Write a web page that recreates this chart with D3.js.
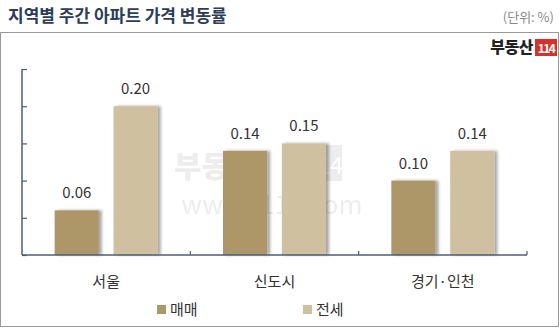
<!DOCTYPE html>
<html><head><meta charset="utf-8">
<script src="https://cdn.jsdelivr.net/npm/d3@7"></script>
<style>body{margin:0;background:#fff}svg{display:block}</style>
</head><body>
<svg id="c" width="560" height="330"></svg>
<script>
const categories = ["서울", "신도시", "경기·인천"];
const seriesNames = ["매매", "전세"];
const sale = [0.06, 0.14, 0.10];
const jeonse = [0.20, 0.15, 0.14];
const yTicks = [0, 0.05, 0.10, 0.15, 0.20, 0.25];
const colors = ["#ad9668", "#cfc09f"];
const title = "지역별 주간 아파트 가격 변동률";
const unit = "(단위: %)";

const svg = d3.select("#c");
const font = "'Noto Sans CJK KR','Noto Sans',sans-serif";

const defs = svg.append("defs");
const f = defs.append("filter").attr("id","sh").attr("x","-10%").attr("y","-10%").attr("width","130%").attr("height","120%");
f.append("feDropShadow").attr("dx",3).attr("dy",0).attr("stdDeviation",1.5).attr("flood-color","#000").attr("flood-opacity",0.35);

// title
svg.append("text").attr("x",8).attr("y",22).attr("font-family",font).attr("font-weight","bold")
  .attr("font-size",17).attr("fill","#2c3d5a").text(title);
svg.append("text").attr("x",554).attr("y",22).attr("text-anchor","end").attr("font-family",font)
  .attr("font-size",13).attr("fill","#8a8a8a").text(unit);

// box
svg.append("rect").attr("x",0.5).attr("y",32.5).attr("width",558).attr("height",294)
  .attr("fill","#fff").attr("stroke","#9a9a9a").attr("stroke-width",1);

// logo
const logo = svg.append("g");
logo.append("text").attr("x",533).attr("y",53).attr("text-anchor","end").attr("font-family",font)
  .attr("font-weight","900").attr("font-size",16).attr("fill","#222").attr("letter-spacing",-0.5).text("부동산");
logo.append("rect").attr("x",535).attr("y",39).attr("width",22).attr("height",17).attr("fill","#d9302a");
logo.append("text").attr("x",546).attr("y",52.5).attr("text-anchor","middle").attr("font-family",font)
  .attr("font-weight","bold").attr("font-size",12).attr("fill","#fff").attr("letter-spacing",-1.5).text("114");

// watermark
const wm = svg.append("g").attr("opacity",0.1);
wm.append("text").attr("x",174).attr("y",177).attr("font-family",font).attr("font-weight","900")
  .attr("font-size",30).attr("fill","#555").text("부동산");
wm.append("rect").attr("x",306).attr("y",145).attr("width",36).attr("height",36).attr("fill","#555");
wm.append("text").attr("x",324).attr("y",174).attr("text-anchor","middle").attr("font-family",font)
  .attr("font-size",24).attr("fill","#fff").attr("letter-spacing",-2).text("114");
wm.append("text").attr("x",272).attr("y",214).attr("text-anchor","middle").attr("font-family",font)
  .attr("font-size",26).attr("fill","#555").text("www.r114.com");

// scales
const x = d3.scaleBand().domain(categories).range([22, 527]).paddingInner(0).paddingOuter(0);
const y = d3.scaleLinear().domain([0, 0.25]).range([255, 69]);
const x1 = d3.scaleBand().domain(seriesNames).range([0, 103]).paddingInner(0.25);
const groupOffset = (x.bandwidth() - 103) / 2;

const data = categories.map((c, i) => ({c, vals: [sale[i], jeonse[i]]}));

const g = svg.append("g");
const groups = g.selectAll("g.grp").data(data).join("g")
  .attr("transform", d => `translate(${x(d.c) + groupOffset},0)`);
groups.selectAll("rect").data(d => d.vals.map((v, k) => ({v, s: seriesNames[k], k})))
  .join("rect")
  .attr("x", d => x1(d.s)).attr("width", x1.bandwidth())
  .attr("y", d => y(d.v)).attr("height", d => y(0) - y(d.v))
  .attr("fill", d => colors[d.k]).attr("filter","url(#sh)");
groups.selectAll("text").data(d => d.vals.map((v, k) => ({v, s: seriesNames[k]})))
  .join("text")
  .attr("x", d => x1(d.s) + x1.bandwidth()/2).attr("y", d => y(d.v) - 12)
  .attr("text-anchor","middle").attr("font-family",font).attr("font-size",15).attr("fill","#333")
  .text(d => d.v.toFixed(2));

// y axis
const axisColor = "#4d5d7c";
const ya = svg.append("g").attr("transform","translate(22,0)")
  .call(d3.axisRight(y).tickValues(yTicks).tickSize(5).tickFormat(""));
ya.select(".domain").attr("stroke",axisColor).attr("stroke-width",1.5).attr("d","M0,69V255");
ya.selectAll(".tick line").attr("stroke",axisColor).attr("stroke-width",1.2);

// x axis
const xa = svg.append("g").attr("transform","translate(0,255)");
xa.append("line").attr("x1",22).attr("x2",527).attr("stroke",axisColor).attr("stroke-width",1.5);
xa.selectAll("line.sep").data(categories).join("line").attr("class","sep")
  .attr("x1", d => x(d) + x.bandwidth()).attr("x2", d => x(d) + x.bandwidth())
  .attr("y1",0).attr("y2",-4).attr("stroke",axisColor).attr("stroke-width",1.2);
xa.selectAll("text").data(categories).join("text")
  .attr("x", d => x(d) + x.bandwidth()/2).attr("y",32)
  .attr("text-anchor","middle").attr("font-family",font).attr("font-size",15).attr("fill","#333")
  .text(d => d);

// legend
const legX = [157, 303];
const leg = svg.append("g");
seriesNames.forEach((s, i) => {
  leg.append("rect").attr("x",legX[i]).attr("y",305).attr("width",9).attr("height",9).attr("fill",colors[i]);
  leg.append("text").attr("x",legX[i]+13).attr("y",315).attr("font-family",font).attr("font-size",15)
    .attr("fill","#333").text(s);
});
</script>
</body></html>
